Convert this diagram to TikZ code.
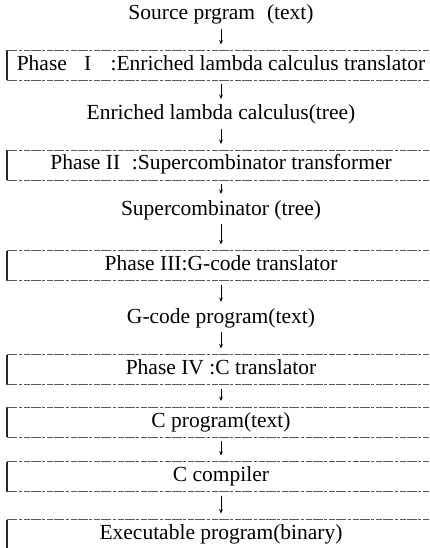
\documentclass[tikz,border=0pt]{standalone}
\usepackage{fontspec}
\setmainfont{Liberation Serif}
\usetikzlibrary{arrows.meta}
\begin{document}
\begin{tikzpicture}[x=1pt,y=-1pt,
  label/.style={font=\fontsize{21.5}{24}\selectfont, inner sep=0pt, outer sep=0pt,
                text height=15pt, text depth=5pt},
  stage/.style={label, minimum width=428pt, minimum height=30pt},
  flow/.style={draw=black, line width=0.9pt, -{Stealth[length=4.5pt,width=3.8pt]},
               shorten <=4pt, shorten >=6pt},
  frameleft/.style={draw=black!85, line width=1.1pt},
  framerule/.style={draw=black!65, line width=0.7pt,
                    dash pattern=on 10pt off 1.5pt on 3pt off 2pt on 6pt off 1pt}]
\useasboundingbox (0,0) rectangle (429,548);
\clip (0,0) rectangle (429,548);

% data and processing stages, top to bottom
\node[label] (src) at (221,15)  {Source prgram\hspace{0.55em}(text)};
\node[stage] (ph1) at (221,65.5) {Phase\hspace{0.8em}I\hspace{0.9em}:Enriched lambda calculus translator\hspace{0.5em}};
\node[label] (lam) at (221,115) {Enriched lambda calculus(tree)};
\node[stage] (ph2) at (221,165) {Phase II\hspace{0.3em} :Supercombinator transformer};
\node[label] (sc)  at (221,210) {Supercombinator (tree)};
\node[stage] (ph3) at (221,265.5) {Phase III:G-code translator};
\node[label] (gc)  at (221,318) {G-code program(text)};
\node[stage] (ph4) at (221,369.5) {Phase IV :C translator};
\node[stage] (cp)  at (221,422) {C program(text)};
\node[stage] (cc)  at (221,476.5) {C compiler};
\node[stage] (exe) at (221,534.5) {Executable program(binary)};

% stage frames: solid left side, broken top and bottom rules
\foreach \b in {ph1,ph2,ph3,ph4,cp,cc,exe} {
  \draw[frameleft] (\b.north west) -- (\b.south west);
  \draw[framerule] (\b.north west) -- (\b.north east);
  \draw[framerule] (\b.south west) -- (\b.south east);
}

% flow arrows
\draw[flow] (src) -- (ph1);
\draw[flow] (ph1) -- (lam);
\draw[flow] (lam) -- (ph2);
\draw[flow] (ph2) -- (sc);
\draw[flow] (sc)  -- (ph3);
\draw[flow] (ph3) -- (gc);
\draw[flow] (gc)  -- (ph4);
\draw[flow] (ph4) -- (cp);
\draw[flow] (cp)  -- (cc);
\draw[flow] (cc)  -- (exe);
\end{tikzpicture}
\end{document}
